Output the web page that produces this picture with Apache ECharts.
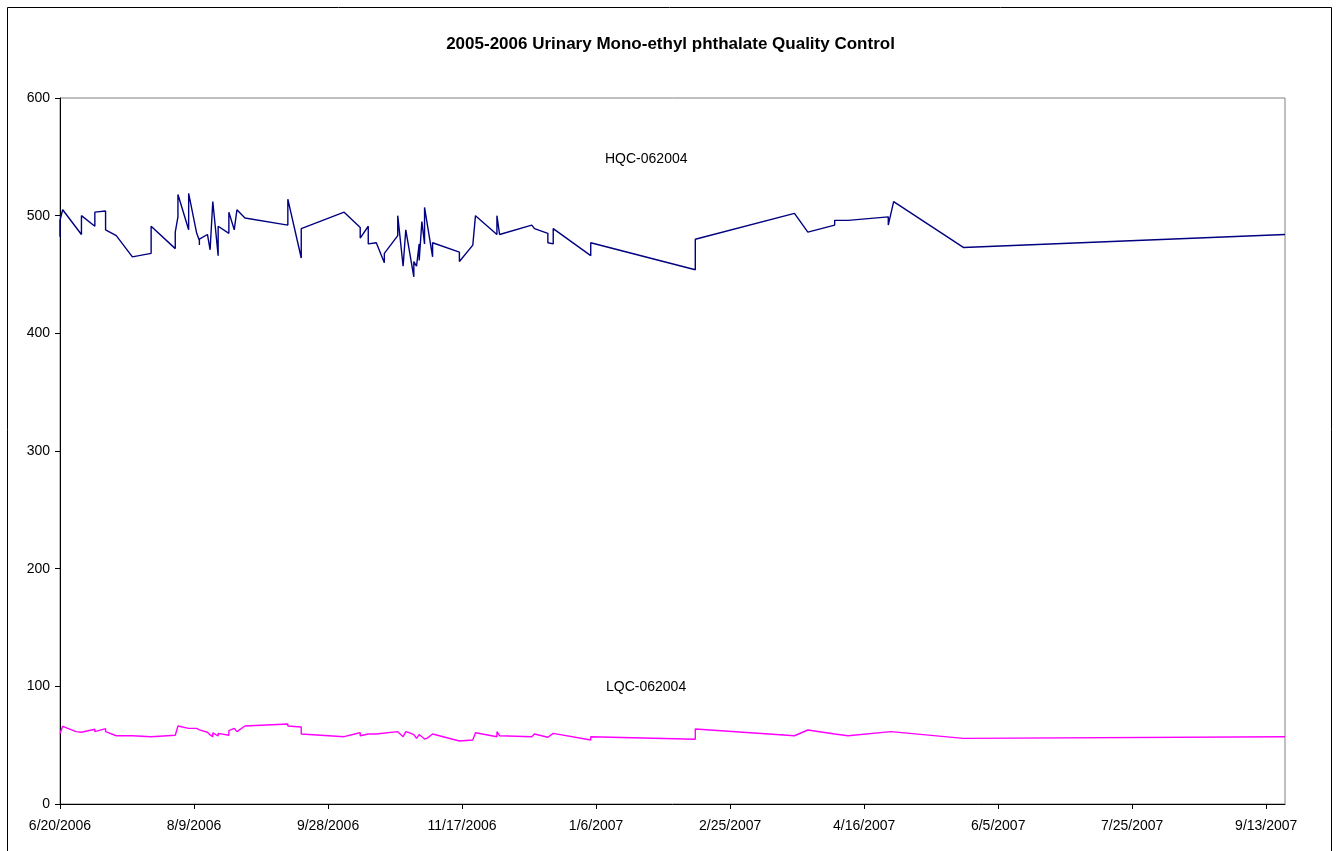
<!DOCTYPE html>
<html>
<head>
<meta charset="utf-8">
<title>2005-2006 Urinary Mono-ethyl phthalate Quality Control</title>
<script src="https://cdn.jsdelivr.net/npm/echarts@6/dist/echarts.min.js"></script>
<style>
  html, body { margin: 0; padding: 0; background: #fff; }
  #qc-chart { width: 1341px; height: 851px; }
</style>
</head>
<body>
<div id="qc-chart"></div>
<script>
  // 日期轴: 以第一个刻度日期为 0，按天计数
  var axisStart = '6/20/2006';
  var axisEnd = '9/20/2007';
  var tickDates = ['6/20/2006', '8/9/2006', '9/28/2006', '11/17/2006', '1/6/2007',
    '2/25/2007', '4/16/2007', '6/5/2007', '7/25/2007', '9/13/2007'];
  var yTicks = [0, 100, 200, 300, 400, 500, 600];

  // HQC-062004
  var hqcDates = ['6/20/2006', '6/20/2006', '6/21/2006', '6/28/2006', '6/28/2006', '7/3/2006', '7/3/2006',
    '7/7/2006', '7/7/2006', '7/11/2006', '7/17/2006', '7/24/2006', '7/24/2006', '8/2/2006', '8/2/2006',
    '8/3/2006', '8/3/2006', '8/7/2006', '8/7/2006', '8/10/2006', '8/11/2006', '8/11/2006', '8/11/2006',
    '8/14/2006', '8/15/2006', '8/16/2006', '8/18/2006', '8/18/2006', '8/22/2006', '8/22/2006', '8/24/2006',
    '8/25/2006', '8/28/2006', '9/13/2006', '9/13/2006', '9/18/2006', '9/18/2006', '10/4/2006', '10/10/2006',
    '10/10/2006', '10/13/2006', '10/13/2006', '10/16/2006', '10/19/2006', '10/19/2006', '10/24/2006', '10/24/2006',
    '10/26/2006', '10/27/2006', '10/30/2006', '10/30/2006', '10/31/2006', '11/1/2006', '11/1/2006', '11/2/2006',
    '11/3/2006', '11/3/2006', '11/6/2006', '11/6/2006', '11/16/2006', '11/16/2006', '11/21/2006', '11/22/2006',
    '11/30/2006', '11/30/2006', '12/1/2006', '12/13/2006', '12/14/2006', '12/19/2006', '12/19/2006', '12/21/2006',
    '12/21/2006', '1/4/2007', '1/4/2007', '2/12/2007', '2/12/2007', '3/21/2007', '3/26/2007', '4/5/2007',
    '4/5/2007', '4/10/2007', '4/25/2007', '4/25/2007', '4/27/2007', '5/23/2007', '9/20/2007'];
  var hqcValues = [482, 496, 505, 484, 500, 491, 503,
    504, 488, 483, 465, 468, 491, 472, 486,
    499, 518, 488, 519, 485, 479, 475, 480,
    484, 471, 512, 466, 491, 485, 503, 488,
    505, 498, 492, 514, 464, 489, 503, 490,
    481, 491, 476, 477, 460, 468, 483, 500,
    457, 488, 448, 461, 457, 476, 462, 495,
    476, 507, 465, 477, 469, 461, 475, 500,
    484, 500, 484, 492, 489, 485, 477, 476,
    489, 466, 477, 454, 480, 502, 486, 492,
    496, 496, 499, 492, 512, 473, 484];

  // LQC-062004
  var lqcDates = ['6/20/2006', '6/21/2006', '6/26/2006', '6/28/2006', '6/28/2006', '7/3/2006', '7/3/2006',
    '7/7/2006', '7/7/2006', '7/11/2006', '7/17/2006', '7/17/2006', '7/24/2006', '8/2/2006', '8/3/2006',
    '8/7/2006', '8/7/2006', '8/10/2006', '8/11/2006', '8/14/2006', '8/15/2006', '8/16/2006', '8/16/2006',
    '8/18/2006', '8/18/2006', '8/22/2006', '8/22/2006', '8/24/2006', '8/25/2006', '8/28/2006', '9/13/2006',
    '9/13/2006', '9/18/2006', '9/18/2006', '10/4/2006', '10/8/2006', '10/10/2006', '10/10/2006', '10/13/2006',
    '10/16/2006', '10/24/2006', '10/24/2006', '10/26/2006', '10/27/2006', '10/28/2006', '10/30/2006', '10/31/2006',
    '11/1/2006', '11/3/2006', '11/4/2006', '11/6/2006', '11/16/2006', '11/21/2006', '11/22/2006', '11/30/2006',
    '11/30/2006', '12/1/2006', '12/13/2006', '12/14/2006', '12/14/2006', '12/19/2006', '12/21/2006', '1/4/2007',
    '1/4/2007', '2/12/2007', '2/12/2007', '3/21/2007', '3/26/2007', '4/5/2007', '4/5/2007', '4/10/2007',
    '4/26/2007', '5/23/2007', '9/20/2007'];
  var lqcValues = [60, 66, 61.5, 61, 59.5, 63.5, 61.5,
    64, 61.5, 58, 58, 57, 57.2, 58.4, 66.3,
    64.3, 65, 64.3, 63, 61, 58.7, 57.2, 60.5,
    57.8, 60, 58.4, 62.4, 64.3, 61.5, 66.3, 68,
    66.3, 65.4, 59.5, 57.2, 59.5, 60.6, 58, 59.5,
    59.5, 61.5, 60.5, 57.2, 61.5, 60.8, 59, 55.8,
    59, 55.2, 56, 59.5, 53.5, 54.4, 60.6, 57.2,
    61.5, 58, 57.2, 59.5, 58, 56.7, 60, 54.4,
    57.2, 55, 63.7, 58, 62.9, 59.5, 60.8, 58,
    61.5, 55.8, 57.2];

  var FONT = 'Liberation Sans, Arial, sans-serif';

  // 'M/D/YYYY' -> 距 axisStart 的天数
  function dayOf(str) {
    var p = str.split('/');
    var t = Date.UTC(+p[2], +p[0] - 1, +p[1]);
    var s = axisStart.split('/');
    var t0 = Date.UTC(+s[2], +s[0] - 1, +s[1]);
    return Math.round((t - t0) / 86400000);
  }

  function toPoints(dates, values) {
    var out = [];
    for (var i = 0; i < dates.length; i++) {
      out.push([dayOf(dates[i]), values[i]]);
    }
    return out;
  }

  var tickDays = tickDates.map(dayOf);
  var tickLabelMap = {};
  tickDates.forEach(function (d) { tickLabelMap[dayOf(d)] = d; });

  var qcChart = echarts.init(document.getElementById('qc-chart'));

  var qcOption = {
    animation: false,
    backgroundColor: '#ffffff',
    title: {
      text: '2005-2006 Urinary Mono-ethyl phthalate Quality Control',
      left: 'center',
      top: 31,
      textStyle: { color: '#000', fontSize: 17, fontWeight: 'bold', fontFamily: FONT }
    },
    grid: {
      left: 60, right: 56, top: 98, bottom: 47,
      show: true,
      backgroundColor: '#ffffff',
      borderColor: '#808080',
      borderWidth: 1
    },
    xAxis: {
      type: 'value',
      min: 0,
      max: dayOf(axisEnd),
      axisLine: { lineStyle: { color: '#000', width: 1 } },
      axisTick: { customValues: tickDays, length: 5, lineStyle: { color: '#000' } },
      axisLabel: {
        customValues: tickDays,
        margin: 15,
        color: '#000',
        fontSize: 14,
        fontFamily: FONT,
        formatter: function (v) { return tickLabelMap[v] || ''; }
      },
      splitLine: { show: false }
    },
    yAxis: {
      type: 'value',
      min: yTicks[0],
      max: yTicks[yTicks.length - 1],
      interval: 100,
      axisLine: { show: true, lineStyle: { color: '#000', width: 1 } },
      axisTick: { show: true, length: 5, lineStyle: { color: '#000' } },
      axisLabel: { margin: 10, color: '#000', fontSize: 14, fontFamily: FONT },
      splitLine: { show: false }
    },
    series: [
      {
        name: 'HQC-062004',
        type: 'line',
        data: toPoints(hqcDates, hqcValues),
        showSymbol: false,
        lineStyle: { color: '#000080', width: 1.4 },
        itemStyle: { color: '#000080' }
      },
      {
        name: 'LQC-062004',
        type: 'line',
        data: toPoints(lqcDates, lqcValues),
        showSymbol: false,
        lineStyle: { color: '#ff00ff', width: 1.4 },
        itemStyle: { color: '#ff00ff' }
      }
    ],
    graphic: [
      {
        type: 'rect',
        silent: true,
        shape: { x: 7.5, y: 7.5, width: 1324, height: 860 },
        style: { fill: 'none', stroke: '#000', lineWidth: 1 }
      },
      {
        type: 'text',
        left: 605, top: 152,
        style: { text: 'HQC-062004', fill: '#000', fontSize: 14, fontFamily: FONT }
      },
      {
        type: 'text',
        left: 606, top: 680,
        style: { text: 'LQC-062004', fill: '#000', fontSize: 14, fontFamily: FONT }
      }
    ]
  };

  qcOption && qcChart.setOption(qcOption);
</script>
</body>
</html>
